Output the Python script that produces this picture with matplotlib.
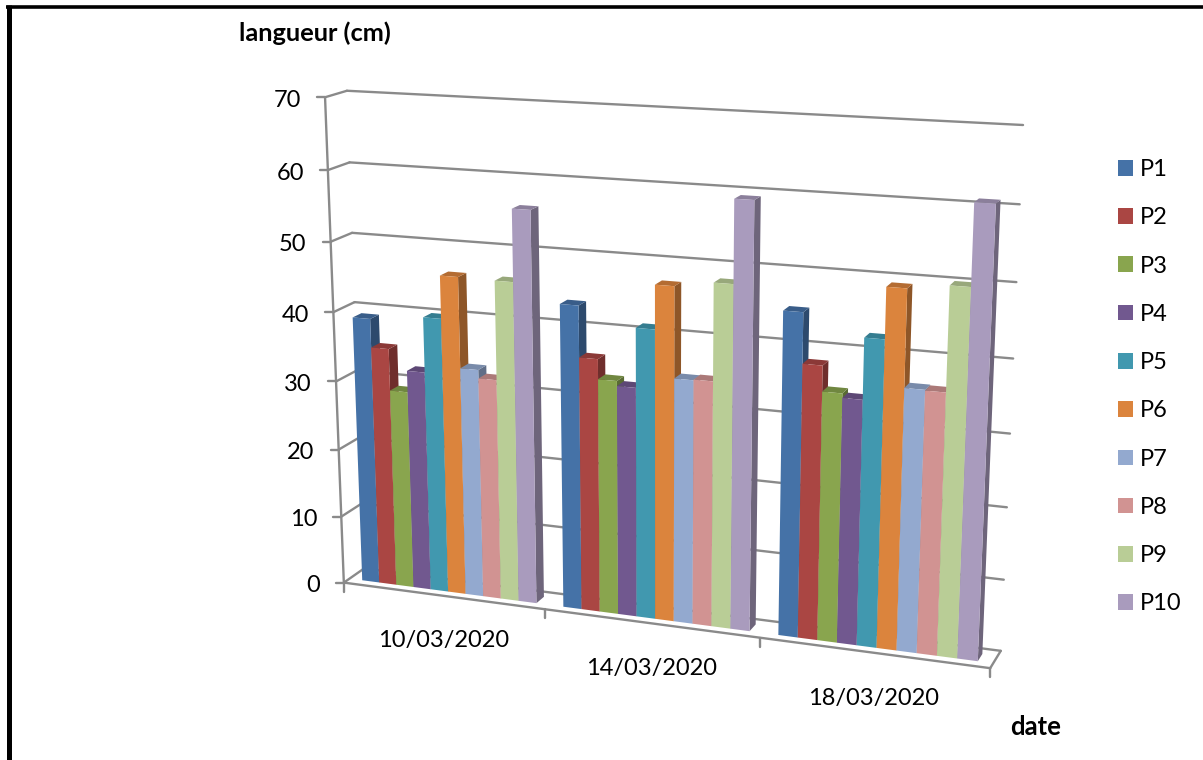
import numpy as np
import matplotlib
matplotlib.use("Agg")
import matplotlib.pyplot as plt
from matplotlib.patches import Polygon, Patch

plt.rcParams["font.family"] = ["Lato", "DejaVu Sans"]

#data
dates = ["10/03/2020", "14/03/2020", "18/03/2020"]
P1 = [39, 43.4, 45]
P2 = [34.9, 36.2, 38.1]
P3 = [28.9, 33.4, 34.6]
P4 = [32, 32.7, 34]
P5 = [39.9, 41, 42.3]
P6 = [46, 47.1, 49.2]
P7 = [33.1, 34.5, 36.1]
P8 = [31.9, 34.6, 36]
P9 = [45.9, 48, 50]
P10 = [56, 59.3, 60.8]
series = [P1, P2, P3, P4, P5, P6, P7, P8, P9, P10]
names = ["P1", "P2", "P3", "P4", "P5", "P6", "P7", "P8", "P9", "P10"]
colors = ["#4572A7", "#AA4643", "#89A54E", "#71588F", "#4198AF",
          "#DB843D", "#93A9CF", "#D19392", "#B9CD96", "#A99BBD"]
y_ticks = [0, 10, 20, 30, 40, 50, 60, 70]

grid_color = "#8a8a8a"
y_max = 70
n_cats = len(dates)

#box corners (category, value, depth) and where they land on the canvas
box = [(0, 0, 0), (0, y_max, 0), (0, 0, 1), (0, y_max, 1),
       (n_cats, 0, 0), (n_cats, 0, 1), (n_cats, y_max, 1)]
canvas = [(345, 583), (324, 97), (363, 568), (348, 91),
          (990, 668), (1001, 651), (1023, 125)]


#perspective camera matrix from the corner pairs
def fit_camera(box, canvas):
    rows = []
    for (x, y, z), (u, v) in zip(box, canvas):
        p = [x, y, z, 1]
        rows.append(p + [0, 0, 0, 0] + [-u * c for c in p])
        rows.append([0, 0, 0, 0] + p + [-v * c for c in p])
    return np.linalg.svd(np.array(rows, float))[2][-1].reshape(3, 4)


cam = fit_camera(box, canvas)


def proj(x, y, z):
    q = cam @ np.array([x, y, z, 1.0])
    return q[0] / q[2], q[1] / q[2]


def shade(color, k):
    rgb = np.array(matplotlib.colors.to_rgb(color))
    return tuple(rgb * k)


def wall_line(a, b, **kw):
    ax.plot([a[0], b[0]], [a[1], b[1]], color=grid_color, lw=1.7,
            solid_capstyle="round", zorder=kw.get("zorder", 1))


fig = plt.figure(figsize=(12.03, 7.6), dpi=100)
ax = fig.add_axes([0, 0, 1, 1])
ax.set_xlim(0, 1203)
ax.set_ylim(760, 0)
ax.axis("off")

#outer frame, only left and top show
ax.plot([8.5, 8.5], [5, 760], color="black", lw=3.6, solid_capstyle="butt")
ax.plot([6, 1203], [6.5, 6.5], color="black", lw=2.6, solid_capstyle="butt")

#gridlines on side wall and back wall, ticks and labels
for t in y_ticks:
    front = proj(0, t, 0)
    back = proj(0, t, 1)
    right = proj(n_cats, t, 1)
    wall_line(front, back)
    wall_line(back, right)
    wall_line((front[0] - 8, front[1]), front)
    ax.text(front[0] - 24, front[1] + 1, str(t), ha="right", va="center_baseline", fontsize=17)

#vertical axis and floor edges
wall_line(proj(0, 0, 0), proj(0, y_max, 0))
wall_line(proj(0, 0, 0), proj(n_cats, 0, 0), zorder=2)
wall_line(proj(n_cats, 0, 0), proj(n_cats, 0, 1))

#category ticks and labels
for i in range(n_cats + 1):
    px, py = proj(i, 0, 0)
    wall_line((px, py), (px, py + 9))
label_pos = [(444, 641), (652, 669), (874, 698)]
for d, (lx, ly) in zip(dates, label_pos):
    ax.text(lx, ly, d, ha="center", va="center", fontsize=17)

#bars, drawn left to right so each one covers the side of the previous one
gap = 0.13
bar_w = (1 - gap) / len(series)
z0, z1 = 0.28, 0.7
for c in range(n_cats):
    for s, vals in enumerate(series):
        x0 = c + gap / 2 + s * bar_w
        x1 = x0 + bar_w
        v = vals[c]
        front = [proj(x0, 0, z0), proj(x1, 0, z0), proj(x1, v, z0), proj(x0, v, z0)]
        side = [proj(x1, 0, z0), proj(x1, 0, z1), proj(x1, v, z1), proj(x1, v, z0)]
        top = [proj(x0, v, z0), proj(x1, v, z0), proj(x1, v, z1), proj(x0, v, z1)]
        col = colors[s]
        ax.add_patch(Polygon(side, closed=True, fc=shade(col, 0.65), ec="none", zorder=3))
        ax.add_patch(Polygon(top, closed=True, fc=shade(col, 0.82), ec="none", zorder=3))
        ax.add_patch(Polygon(front, closed=True, fc=col, ec="none", zorder=3))

#axis titles
ax.text(315, 33, "langueur (cm)", ha="center", va="center", fontsize=18.3, fontweight="bold")
ax.text(1036, 727, "date", ha="center", va="center", fontsize=18.5, fontweight="bold")

#legend
handles = [Patch(fc=c, ec="none", label=n) for c, n in zip(colors, names)]
ax.legend(handles=handles, loc="upper left", bbox_to_anchor=(1118, 159), bbox_transform=ax.transData,
          frameon=False, fontsize=17, handlelength=0.64, handleheight=0.64, handletextpad=0.27,
          labelspacing=1.155, borderpad=0, borderaxespad=0)

plt.savefig("out.png", dpi=100)
